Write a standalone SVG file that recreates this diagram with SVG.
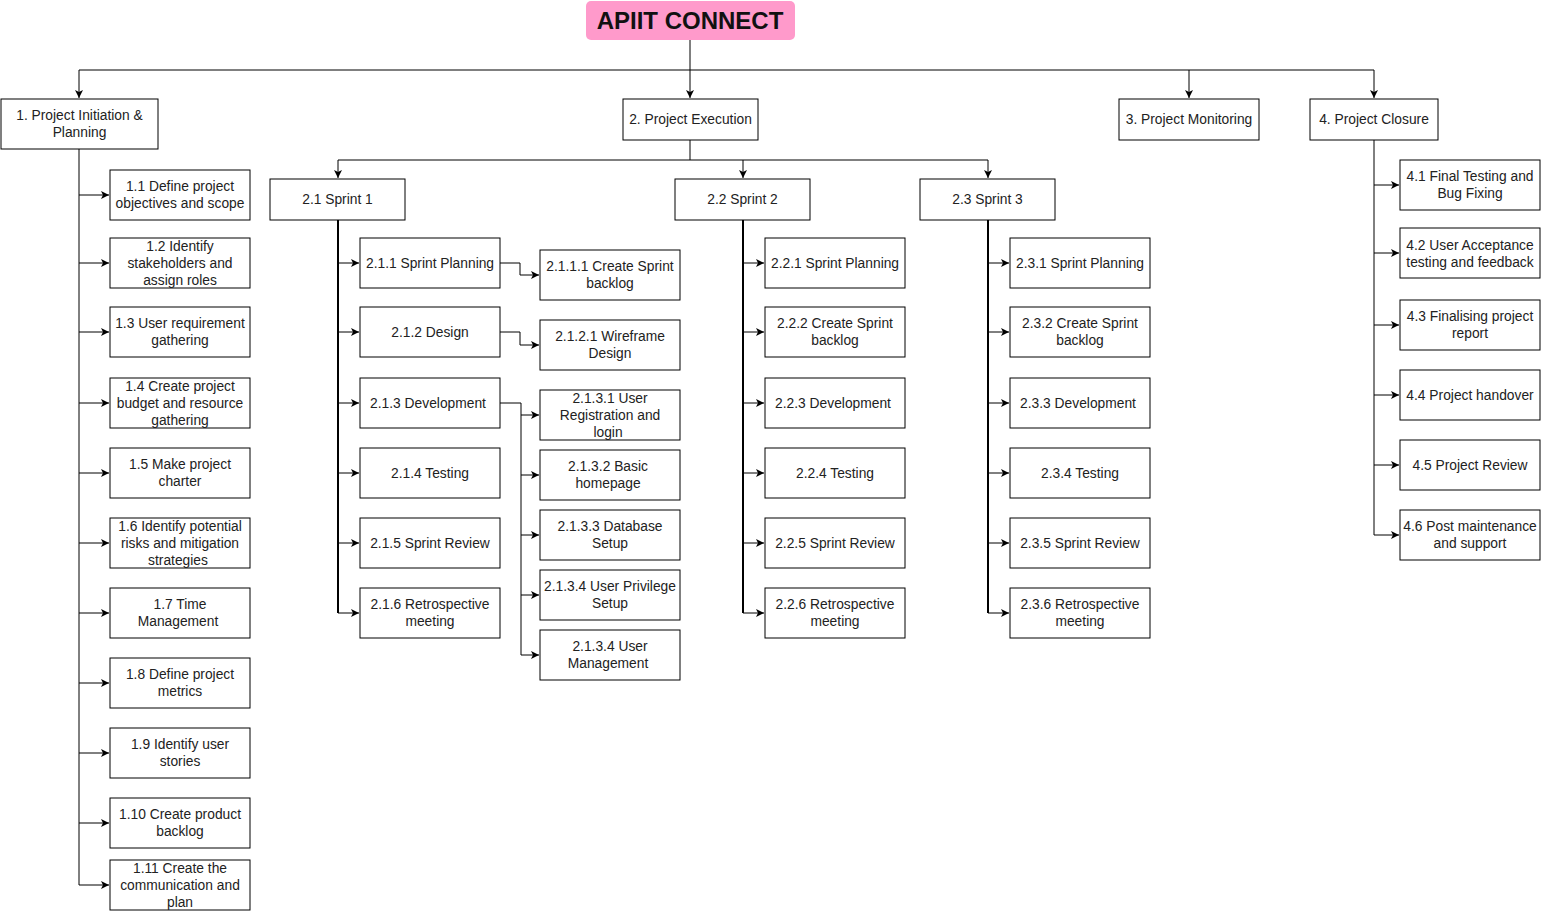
<svg xmlns="http://www.w3.org/2000/svg" width="1541" height="911" viewBox="0 0 1541 911">
<style>
.n rect{fill:#fff;stroke:#000;stroke-width:1}
.n text,.t{font-family:"Liberation Sans",Arial,sans-serif;font-size:13.8px;fill:#222;text-anchor:middle;dominant-baseline:central}
.c path{fill:none;stroke:#000;stroke-width:1}
.c path.k{stroke-width:2}
</style>
<defs>
<marker id="a" markerUnits="userSpaceOnUse" markerWidth="9" markerHeight="9" refX="8" refY="4.5" orient="auto">
<path d="M0,0.5 L8,4.5 L0,8.5 L2,4.5 Z" fill="#000"/>
</marker>
</defs>
<rect width="1541" height="911" fill="#fff"/>
<g class="c">
<path d="M690,40 V70 M79,70 H1374" />
<path d="M79,70 V98" marker-end="url(#a)"/>
<path d="M690,70 V98" marker-end="url(#a)"/>
<path d="M1189,70 V98" marker-end="url(#a)"/>
<path d="M1374,70 V98" marker-end="url(#a)"/>
<path d="M79,149 V885"/>
<path d="M79,195 H109" marker-end="url(#a)"/>
<path d="M79,263 H109" marker-end="url(#a)"/>
<path d="M79,332 H109" marker-end="url(#a)"/>
<path d="M79,403 H109" marker-end="url(#a)"/>
<path d="M79,473 H109" marker-end="url(#a)"/>
<path d="M79,543 H109" marker-end="url(#a)"/>
<path d="M79,613 H109" marker-end="url(#a)"/>
<path d="M79,683 H109" marker-end="url(#a)"/>
<path d="M79,753 H109" marker-end="url(#a)"/>
<path d="M79,823 H109" marker-end="url(#a)"/>
<path d="M79,885 H109" marker-end="url(#a)"/>
<path d="M690,140 V160 M338,160 H988"/>
<path d="M338,160 V178" marker-end="url(#a)"/>
<path d="M743,160 V178" marker-end="url(#a)"/>
<path d="M988,160 V178" marker-end="url(#a)"/>
<path class="k" d="M338,220 V613"/>
<path class="k" d="M743,220 V613"/>
<path class="k" d="M988,220 V613"/>
<path d="M338,263 H359" marker-end="url(#a)"/>
<path d="M338,332 H359" marker-end="url(#a)"/>
<path d="M338,403 H359" marker-end="url(#a)"/>
<path d="M338,473 H359" marker-end="url(#a)"/>
<path d="M338,543 H359" marker-end="url(#a)"/>
<path d="M338,613 H359" marker-end="url(#a)"/>
<path d="M743,263 H764" marker-end="url(#a)"/>
<path d="M743,332 H764" marker-end="url(#a)"/>
<path d="M743,403 H764" marker-end="url(#a)"/>
<path d="M743,473 H764" marker-end="url(#a)"/>
<path d="M743,543 H764" marker-end="url(#a)"/>
<path d="M743,613 H764" marker-end="url(#a)"/>
<path d="M988,263 H1009" marker-end="url(#a)"/>
<path d="M988,332 H1009" marker-end="url(#a)"/>
<path d="M988,403 H1009" marker-end="url(#a)"/>
<path d="M988,473 H1009" marker-end="url(#a)"/>
<path d="M988,543 H1009" marker-end="url(#a)"/>
<path d="M988,613 H1009" marker-end="url(#a)"/>
<path d="M500,263 H520 V275 H539" marker-end="url(#a)"/>
<path d="M500,332 H520 V345 H539" marker-end="url(#a)"/>
<path d="M500,403 H521 V655"/>
<path d="M521,415 H539" marker-end="url(#a)"/>
<path d="M521,475 H539" marker-end="url(#a)"/>
<path d="M521,535 H539" marker-end="url(#a)"/>
<path d="M521,595 H539" marker-end="url(#a)"/>
<path d="M521,655 H539" marker-end="url(#a)"/>
<path d="M1374,140 V535"/>
<path d="M1374,185 H1399" marker-end="url(#a)"/>
<path d="M1374,253 H1399" marker-end="url(#a)"/>
<path d="M1374,325 H1399" marker-end="url(#a)"/>
<path d="M1374,395 H1399" marker-end="url(#a)"/>
<path d="M1374,465 H1399" marker-end="url(#a)"/>
<path d="M1374,535 H1399" marker-end="url(#a)"/>
</g>
<g id="root"><rect x="586" y="1" width="209" height="39" rx="5" fill="#FF9ACB"/><text class="t" x="690" y="20.5" style="font-size:24px;font-weight:bold;fill:#111">APIIT CONNECT</text></g>
<g id="n1" class="n"><rect x="1" y="99" width="157" height="50"/><text x="79.5" y="115.5">1. Project Initiation &amp;</text><text x="79.5" y="132.5">Planning</text></g>
<g id="n2" class="n"><rect x="623" y="99" width="135" height="41"/><text x="690.5" y="119.5">2. Project Execution</text></g>
<g id="n3" class="n"><rect x="1119" y="99" width="140" height="41"/><text x="1189" y="119.5">3. Project Monitoring</text></g>
<g id="n4" class="n"><rect x="1310" y="99" width="128" height="41"/><text x="1374" y="119.5">4. Project Closure</text></g>
<g id="n1_1" class="n"><rect x="110" y="170" width="140" height="50"/><text x="180" y="186.5">1.1 Define project</text><text x="180" y="203.5">objectives and scope</text></g>
<g id="n1_2" class="n"><rect x="110" y="238" width="140" height="50"/><text x="180" y="246">1.2 Identify</text><text x="180" y="263">stakeholders and</text><text x="180" y="280">assign roles</text></g>
<g id="n1_3" class="n"><rect x="110" y="307" width="140" height="50"/><text x="180" y="323.5">1.3 User requirement</text><text x="180" y="340.5">gathering</text></g>
<g id="n1_4" class="n"><rect x="110" y="378" width="140" height="50"/><text x="180" y="386">1.4 Create project</text><text x="180" y="403">budget and resource</text><text x="180" y="420">gathering</text></g>
<g id="n1_5" class="n"><rect x="110" y="448" width="140" height="50"/><text x="180" y="464.5">1.5 Make project</text><text x="180" y="481.5">charter</text></g>
<g id="n1_6" class="n"><rect x="110" y="518" width="140" height="50"/><text x="180" y="526">1.6 Identify potential</text><text x="180" y="543">risks and mitigation</text><text x="178" y="560">strategies</text></g>
<g id="n1_7" class="n"><rect x="110" y="588" width="140" height="50"/><text x="180" y="604.5">1.7 Time</text><text x="178" y="621.5">Management</text></g>
<g id="n1_8" class="n"><rect x="110" y="658" width="140" height="50"/><text x="180" y="674.5">1.8 Define project</text><text x="180" y="691.5">metrics</text></g>
<g id="n1_9" class="n"><rect x="110" y="728" width="140" height="50"/><text x="180" y="744.5">1.9 Identify user</text><text x="180" y="761.5">stories</text></g>
<g id="n1_10" class="n"><rect x="110" y="798" width="140" height="50"/><text x="180" y="814.5">1.10 Create product</text><text x="180" y="831.5">backlog</text></g>
<g id="n1_11" class="n"><rect x="110" y="860" width="140" height="50"/><text x="180" y="868">1.11 Create the</text><text x="180" y="885">communication and</text><text x="180" y="902">plan</text></g>
<g id="n2_1" class="n"><rect x="270" y="179" width="135" height="41"/><text x="337.5" y="199.5">2.1 Sprint 1</text></g>
<g id="n2_2" class="n"><rect x="675" y="179" width="135" height="41"/><text x="742.5" y="199.5">2.2 Sprint 2</text></g>
<g id="n2_3" class="n"><rect x="920" y="179" width="135" height="41"/><text x="987.5" y="199.5">2.3 Sprint 3</text></g>
<g id="n2_1_1" class="n"><rect x="360" y="238" width="140" height="50"/><text x="430" y="263">2.1.1 Sprint Planning</text></g>
<g id="n2_1_2" class="n"><rect x="360" y="307" width="140" height="50"/><text x="430" y="332">2.1.2 Design</text></g>
<g id="n2_1_3" class="n"><rect x="360" y="378" width="140" height="50"/><text x="428" y="403">2.1.3 Development</text></g>
<g id="n2_1_4" class="n"><rect x="360" y="448" width="140" height="50"/><text x="430" y="473">2.1.4 Testing</text></g>
<g id="n2_1_5" class="n"><rect x="360" y="518" width="140" height="50"/><text x="430" y="543">2.1.5 Sprint Review</text></g>
<g id="n2_1_6" class="n"><rect x="360" y="588" width="140" height="50"/><text x="430" y="604.5">2.1.6 Retrospective</text><text x="430" y="621.5">meeting</text></g>
<g id="n2_1_1_1" class="n"><rect x="540" y="250" width="140" height="50"/><text x="610" y="266.5">2.1.1.1 Create Sprint</text><text x="610" y="283.5">backlog</text></g>
<g id="n2_1_2_1" class="n"><rect x="540" y="320" width="140" height="50"/><text x="610" y="336.5">2.1.2.1 Wireframe</text><text x="610" y="353.5">Design</text></g>
<g id="n2_1_3_1" class="n"><rect x="540" y="390" width="140" height="50"/><text x="610" y="398">2.1.3.1 User</text><text x="610" y="415">Registration and</text><text x="608" y="432">login</text></g>
<g id="n2_1_3_2" class="n"><rect x="540" y="450" width="140" height="50"/><text x="608" y="466.5">2.1.3.2 Basic</text><text x="608" y="483.5">homepage</text></g>
<g id="n2_1_3_3" class="n"><rect x="540" y="510" width="140" height="50"/><text x="610" y="526.5">2.1.3.3 Database</text><text x="610" y="543.5">Setup</text></g>
<g id="n2_1_3_4" class="n"><rect x="540" y="570" width="140" height="50"/><text x="610" y="586.5">2.1.3.4 User Privilege</text><text x="610" y="603.5">Setup</text></g>
<g id="n2_1_3_5" class="n"><rect x="540" y="630" width="140" height="50"/><text x="610" y="646.5">2.1.3.4 User</text><text x="608" y="663.5">Management</text></g>
<g id="n2_2_1" class="n"><rect x="765" y="238" width="140" height="50"/><text x="835" y="263">2.2.1 Sprint Planning</text></g>
<g id="n2_2_2" class="n"><rect x="765" y="307" width="140" height="50"/><text x="835" y="323.5">2.2.2 Create Sprint</text><text x="835" y="340.5">backlog</text></g>
<g id="n2_2_3" class="n"><rect x="765" y="378" width="140" height="50"/><text x="833" y="403">2.2.3 Development</text></g>
<g id="n2_2_4" class="n"><rect x="765" y="448" width="140" height="50"/><text x="835" y="473">2.2.4 Testing</text></g>
<g id="n2_2_5" class="n"><rect x="765" y="518" width="140" height="50"/><text x="835" y="543">2.2.5 Sprint Review</text></g>
<g id="n2_2_6" class="n"><rect x="765" y="588" width="140" height="50"/><text x="835" y="604.5">2.2.6 Retrospective</text><text x="835" y="621.5">meeting</text></g>
<g id="n2_3_1" class="n"><rect x="1010" y="238" width="140" height="50"/><text x="1080" y="263">2.3.1 Sprint Planning</text></g>
<g id="n2_3_2" class="n"><rect x="1010" y="307" width="140" height="50"/><text x="1080" y="323.5">2.3.2 Create Sprint</text><text x="1080" y="340.5">backlog</text></g>
<g id="n2_3_3" class="n"><rect x="1010" y="378" width="140" height="50"/><text x="1078" y="403">2.3.3 Development</text></g>
<g id="n2_3_4" class="n"><rect x="1010" y="448" width="140" height="50"/><text x="1080" y="473">2.3.4 Testing</text></g>
<g id="n2_3_5" class="n"><rect x="1010" y="518" width="140" height="50"/><text x="1080" y="543">2.3.5 Sprint Review</text></g>
<g id="n2_3_6" class="n"><rect x="1010" y="588" width="140" height="50"/><text x="1080" y="604.5">2.3.6 Retrospective</text><text x="1080" y="621.5">meeting</text></g>
<g id="n4_1" class="n"><rect x="1400" y="160" width="140" height="50"/><text x="1470" y="176.5">4.1 Final Testing and</text><text x="1470" y="193.5">Bug Fixing</text></g>
<g id="n4_2" class="n"><rect x="1400" y="228" width="140" height="50"/><text x="1470" y="245.5">4.2 User Acceptance</text><text x="1470" y="262.5">testing and feedback</text></g>
<g id="n4_3" class="n"><rect x="1400" y="300" width="140" height="50"/><text x="1470" y="316.5">4.3 Finalising project</text><text x="1470" y="333.5">report</text></g>
<g id="n4_4" class="n"><rect x="1400" y="370" width="140" height="50"/><text x="1470" y="395">4.4 Project handover</text></g>
<g id="n4_5" class="n"><rect x="1400" y="440" width="140" height="50"/><text x="1470" y="465">4.5 Project Review</text></g>
<g id="n4_6" class="n"><rect x="1400" y="510" width="140" height="50"/><text x="1470" y="526.5">4.6 Post maintenance</text><text x="1470" y="543.5">and support</text></g>
</svg>
